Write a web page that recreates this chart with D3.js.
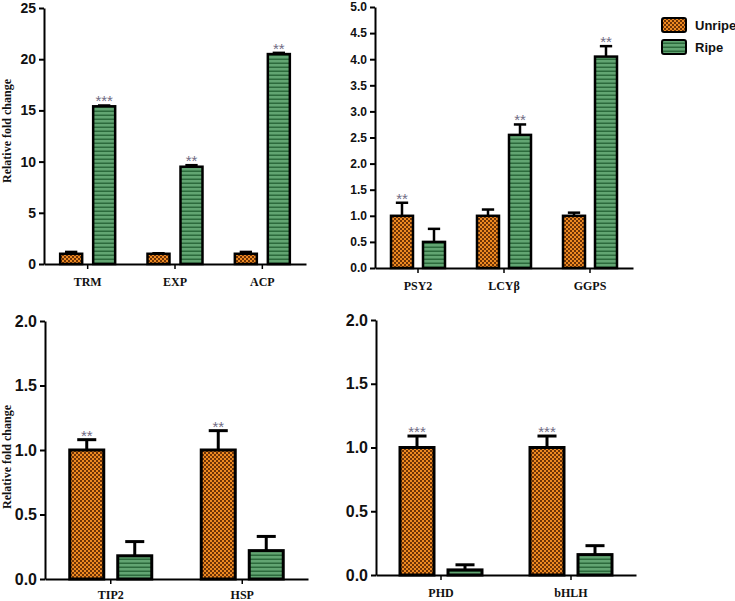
<!DOCTYPE html>
<html><head><meta charset="utf-8">
<script src="https://cdn.jsdelivr.net/npm/d3@7"></script>
<style>
body{margin:0;background:#fff;}
svg{display:block;}
.tick text{font-family:"Liberation Sans",Arial,sans-serif;font-weight:bold;fill:#111;}
.cat text{font-family:"Liberation Serif","Times New Roman",serif;font-weight:bold;}
</style></head>
<body>
<script>
// ---------- data ----------
const series = ["Unripe", "Ripe"];

const cats1 = ["TRM", "EXP", "ACP"];
const unripe1 = [1.0, 1.0, 1.0];
const unripeErr1 = [0.18, 0.05, 0.18];
const ripe1 = [15.4, 9.5, 20.5];
const ripeErr1 = [0.08, 0.15, 0.12];
const sigUnripe1 = ["", "", ""];
const sigRipe1 = ["***", "**", "**"];
const yTicks1 = [0, 5, 10, 15, 20, 25];

const cats2 = ["PSY2", "LCYβ", "GGPS"];
const unripe2 = [1.0, 1.0, 1.0];
const unripeErr2 = [0.25, 0.12, 0.06];
const ripe2 = [0.5, 2.55, 4.05];
const ripeErr2 = [0.25, 0.2, 0.2];
const sigUnripe2 = ["**", "", ""];
const sigRipe2 = ["", "**", "**"];
const yTicks2 = [0, 0.5, 1.0, 1.5, 2.0, 2.5, 3.0, 3.5, 4.0, 4.5, 5.0];

const cats3 = ["TIP2", "HSP"];
const unripe3 = [1.0, 1.0];
const unripeErr3 = [0.08, 0.15];
const ripe3 = [0.18, 0.22];
const ripeErr3 = [0.11, 0.11];
const sigUnripe3 = ["**", "**"];
const sigRipe3 = ["", ""];
const yTicks3 = [0, 0.5, 1.0, 1.5, 2.0];

const cats4 = ["PHD", "bHLH"];
const unripe4 = [1.0, 1.0];
const unripeErr4 = [0.09, 0.09];
const ripe4 = [0.04, 0.16];
const ripeErr4 = [0.04, 0.07];
const sigUnripe4 = ["***", "***"];
const sigRipe4 = ["", ""];
const yTicks4 = [0, 0.5, 1.0, 1.5, 2.0];

const yTitle = "Relative fold change";

// ---------- drawing ----------
const svg = d3.select("body").append("svg").attr("width", 735).attr("height", 601);
const defs = svg.append("defs");

const chk = defs.append("pattern").attr("id", "chk").attr("patternUnits", "userSpaceOnUse")
  .attr("width", 4).attr("height", 4);
chk.append("rect").attr("width", 4).attr("height", 4).attr("fill", "#ee8a22");
chk.append("rect").attr("width", 2).attr("height", 2).attr("fill", "#6e3306");
chk.append("rect").attr("x", 2).attr("y", 2).attr("width", 2).attr("height", 2).attr("fill", "#6e3306");

const str = defs.append("pattern").attr("id", "str").attr("patternUnits", "userSpaceOnUse")
  .attr("width", 4).attr("height", 4);
str.append("rect").attr("width", 4).attr("height", 4).attr("fill", "#62a572");
str.append("rect").attr("y", 2.5).attr("width", 4).attr("height", 1.5).attr("fill", "#2c6a3c");

const fills = { Unripe: "url(#chk)", Ripe: "url(#str)" };

function panel(cfg, cats, vals, errs, sigs, yTicks, fmt) {
  const g = svg.append("g");
  const y = d3.scaleLinear().domain([0, yTicks[yTicks.length - 1]]).range([cfg.bottom, cfg.top]);
  const x0 = d3.scaleBand().domain(cats).range([cfg.left, cfg.right]);
  const x1 = d3.scaleBand().domain(series).range([0, cfg.gw]).paddingInner(cfg.pad);
  const off = (x0.bandwidth() - cfg.gw) / 2;

  const rows = [];
  cats.forEach((c, i) => series.forEach((s, k) => {
    rows.push({ c, s, v: vals[k][i], e: errs[k][i], sig: sigs[k][i] });
  }));
  const bx = d => x0(d.c) + off + x1(d.s);
  const bw = x1.bandwidth();

  // error bars
  g.selectAll(".err").data(rows).join("g").each(function (d) {
    const cx = bx(d) + bw / 2;
    const sel = d3.select(this);
    sel.append("line").attr("x1", cx).attr("x2", cx).attr("y1", y(d.v)).attr("y2", y(d.v + d.e))
      .attr("stroke", "#000").attr("stroke-width", cfg.sw);
    sel.append("line").attr("x1", cx - bw * 0.28).attr("x2", cx + bw * 0.28)
      .attr("y1", y(d.v + d.e)).attr("y2", y(d.v + d.e))
      .attr("stroke", "#000").attr("stroke-width", cfg.sw);
  });

  g.selectAll(".bar").data(rows).join("rect")
    .attr("x", bx).attr("width", bw)
    .attr("y", d => y(d.v)).attr("height", d => y(0) - y(d.v))
    .attr("fill", d => fills[d.s]).attr("stroke", "#000").attr("stroke-width", cfg.sw);

  g.selectAll(".sig").data(rows.filter(d => d.sig)).join("text")
    .attr("x", d => bx(d) + bw / 2).attr("y", d => y(d.v + d.e) + 1)
    .attr("text-anchor", "middle").attr("font-family", "Liberation Sans, Arial, sans-serif")
    .attr("font-size", 15).attr("fill", "#716c84").text(d => d.sig);

  // y axis
  const ya = g.append("g").attr("transform", `translate(${cfg.left},0)`)
    .call(d3.axisLeft(y).tickValues(yTicks).tickSize(5).tickSizeOuter(0).tickPadding(3)
      .tickFormat(d3.format(fmt)));
  ya.select(".domain").attr("stroke-width", 2);
  ya.selectAll(".tick line").attr("stroke-width", 2);
  ya.selectAll(".tick text").attr("font-size", cfg.tf);

  // x axis
  const xa = g.append("g").attr("class", "cat").attr("transform", `translate(0,${cfg.bottom})`)
    .call(d3.axisBottom(x0).tickSize(5).tickSizeOuter(0));
  xa.select(".domain").attr("stroke-width", 2);
  xa.selectAll(".tick line").attr("stroke-width", 1.5);
  xa.selectAll(".tick text").attr("font-size", 12).attr("y", cfg.catDy).attr("dy", 0)
    .style("font-family", "Liberation Serif, Times New Roman, serif").style("fill", "#111");
  return g;
}

panel({ left: 44, right: 306, top: 8, bottom: 264, gw: 55, pad: 1 / 3, sw: 2.5, tf: 14, catDy: 22 },
  cats1, [unripe1, ripe1], [unripeErr1, ripeErr1], [sigUnripe1, sigRipe1], yTicks1, "d");
panel({ left: 375, right: 633, top: 7, bottom: 268, gw: 54, pad: 10 / 32, sw: 2.5, tf: 12, catDy: 22 },
  cats2, [unripe2, ripe2], [unripeErr2, ripeErr2], [sigUnripe2, sigRipe2], yTicks2, ".1f");
panel({ left: 45, right: 308, top: 321, bottom: 579, gw: 82, pad: 14 / 48, sw: 3, tf: 16, catDy: 20 },
  cats3, [unripe3, ripe3], [unripeErr3, ripeErr3], [sigUnripe3, sigRipe3], yTicks3, ".1f");
panel({ left: 376, right: 636, top: 320, bottom: 575, gw: 82, pad: 14 / 48, sw: 3, tf: 16, catDy: 22 },
  cats4, [unripe4, ripe4], [unripeErr4, ripeErr4], [sigUnripe4, sigRipe4], yTicks4, ".1f");

// y titles
[131, 457].forEach(cy => {
  svg.append("text").attr("transform", `translate(11,${cy}) rotate(-90)`)
    .attr("text-anchor", "middle").attr("font-family", "Liberation Serif, Times New Roman, serif")
    .attr("font-weight", "bold").attr("font-size", 12).attr("fill", "#111").text(yTitle);
});

// legend
const lg = svg.append("g").attr("transform", "translate(662,18)");
series.forEach((s, i) => {
  const r = lg.append("g").attr("transform", `translate(0,${i * 22})`);
  r.append("rect").attr("width", 24).attr("height", 14).attr("rx", 2)
    .attr("fill", fills[s]).attr("stroke", "#000").attr("stroke-width", 2);
  r.append("text").attr("x", 33).attr("y", 7).attr("dy", "0.36em")
    .attr("font-family", "Liberation Sans, Arial, sans-serif").attr("font-weight", "bold")
    .attr("font-size", 13).attr("fill", "#111").text(s);
});
</script>
</body></html>
